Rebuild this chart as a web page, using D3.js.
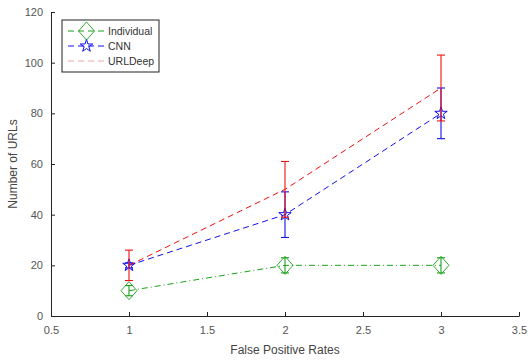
<!DOCTYPE html>
<html>
<head>
<meta charset="utf-8">
<script src="https://cdn.jsdelivr.net/npm/d3@7"></script>
<style>
  body { margin: 0; background: #fff; }
  svg text { font-family: "Liberation Sans", Arial, sans-serif; }
</style>
</head>
<body>
<div id="root"></div>
<script>
// data
const rates = [1, 2, 3];
const individual = [10, 20, 20];
const individualErr = [2, 3, 3];
const cnn = [20, 40, 80];
const cnnErr = [1, 9, 10];
const urldeep = [20, 50, 90];
const urldeepErr = [6, 11, 13];
const xTicks = [0.5, 1, 1.5, 2, 2.5, 3, 3.5];
const yTicks = [0, 20, 40, 60, 80, 100, 120];

var margin = { top: 12, right: 9, bottom: 45, left: 51 },
  width = 528 - margin.left - margin.right,
  height = 361 - margin.top - margin.bottom;

var svg = d3.select("#root")
  .append("svg")
  .attr("width", 528)
  .attr("height", 361)
  .append("g")
  .attr("transform", `translate(${margin.left},${margin.top})`);

var x = d3.scaleLinear().domain([0.5, 3.5]).range([0, width]);
var y = d3.scaleLinear().domain([0, 120]).range([height, 0]);

// axes (ticks pointing inward)
var xAxis = svg.append("g")
  .attr("transform", "translate(0," + height + ")")
  .call(d3.axisBottom(x).tickValues(xTicks).tickSizeInner(-4).tickSizeOuter(0).tickPadding(10)
    .tickFormat(d3.format("")));
var yAxis = svg.append("g")
  .call(d3.axisLeft(y).tickValues(yTicks).tickSizeInner(-4).tickSizeOuter(0).tickPadding(8));
[xAxis, yAxis].forEach(function (a) {
  a.select(".domain").attr("stroke", "#222");
  a.selectAll(".tick line").attr("stroke", "#222");
  a.selectAll("text").attr("fill", "#555").style("font-size", "11px");
});

svg.append("text")
  .attr("x", width / 2).attr("y", height + 38)
  .attr("text-anchor", "middle").attr("fill", "#444").style("font-size", "12px")
  .text("False Positive Rates");
svg.append("text")
  .attr("transform", "translate(-34," + (height / 2) + ") rotate(-90)")
  .attr("text-anchor", "middle").attr("fill", "#444").style("font-size", "12px")
  .text("Number of URLs");

var series = [
  { name: "Individual", values: individual, err: individualErr, color: "#1aa01a", dash: "6,3,1,3", marker: "diamond" },
  { name: "CNN", values: cnn, err: cnnErr, color: "#1010f0", dash: "6,4", marker: "star" },
  { name: "URLDeep", values: urldeep, err: urldeepErr, color: "#f01010", dash: "6,4", marker: null }
];

var line = d3.line()
  .x(function (d) { return x(d.r); })
  .y(function (d) { return y(d.v); });

function drawMarker(g, type, cx, cy, color) {
  if (type === "diamond") {
    g.append("path")
      .attr("d", `M${cx},${cy - 9}L${cx + 8},${cy}L${cx},${cy + 9}L${cx - 8},${cy}Z`)
      .attr("fill", "none").attr("stroke", color).attr("stroke-width", 0.9);
  } else if (type === "star") {
    g.append("path")
      .attr("d", d3.symbol().type(d3.symbolStar).size(48)())
      .attr("transform", `translate(${cx},${cy})`)
      .attr("fill", "none").attr("stroke", color).attr("stroke-width", 1);
  }
}

series.forEach(function (s) {
  var pts = rates.map(function (r, i) { return { r: r, v: s.values[i], e: s.err[i] }; });
  var g = svg.append("g");
  g.append("path")
    .datum(pts)
    .attr("fill", "none")
    .attr("stroke", s.color)
    .attr("stroke-width", 1)
    .attr("stroke-dasharray", s.dash)
    .attr("d", line);
  pts.forEach(function (p) {
    var cx = x(p.r);
    g.append("line")
      .attr("x1", cx).attr("x2", cx)
      .attr("y1", y(p.v - p.e)).attr("y2", y(p.v + p.e))
      .attr("stroke", s.color).attr("stroke-width", 1.1);
    [p.v - p.e, p.v + p.e].forEach(function (v) {
      g.append("line")
        .attr("x1", cx - 4).attr("x2", cx + 4)
        .attr("y1", y(v)).attr("y2", y(v))
        .attr("stroke", s.color).attr("stroke-width", 1.1);
    });
    drawMarker(g, s.marker, cx, y(p.v), s.color);
  });
});

// legend
var legend = svg.append("g").attr("transform", "translate(11,8)");
legend.append("rect")
  .attr("width", 97).attr("height", 52)
  .attr("fill", "#fff").attr("stroke", "#222").attr("stroke-width", 1);
series.forEach(function (s, i) {
  var ly = 11 + i * 15;
  legend.append("line")
    .attr("x1", 6).attr("x2", 43).attr("y1", ly).attr("y2", ly)
    .attr("stroke", s.name === "URLDeep" ? "#f4a0a0" : s.color)
    .attr("stroke-width", 1)
    .attr("stroke-dasharray", "6,4");
  drawMarker(legend, s.marker, 24.5, ly, s.color);
  legend.append("text")
    .attr("x", 46).attr("y", ly + 4)
    .attr("fill", "#333").style("font-size", "10.5px")
    .text(s.name);
});
</script>
</body>
</html>
